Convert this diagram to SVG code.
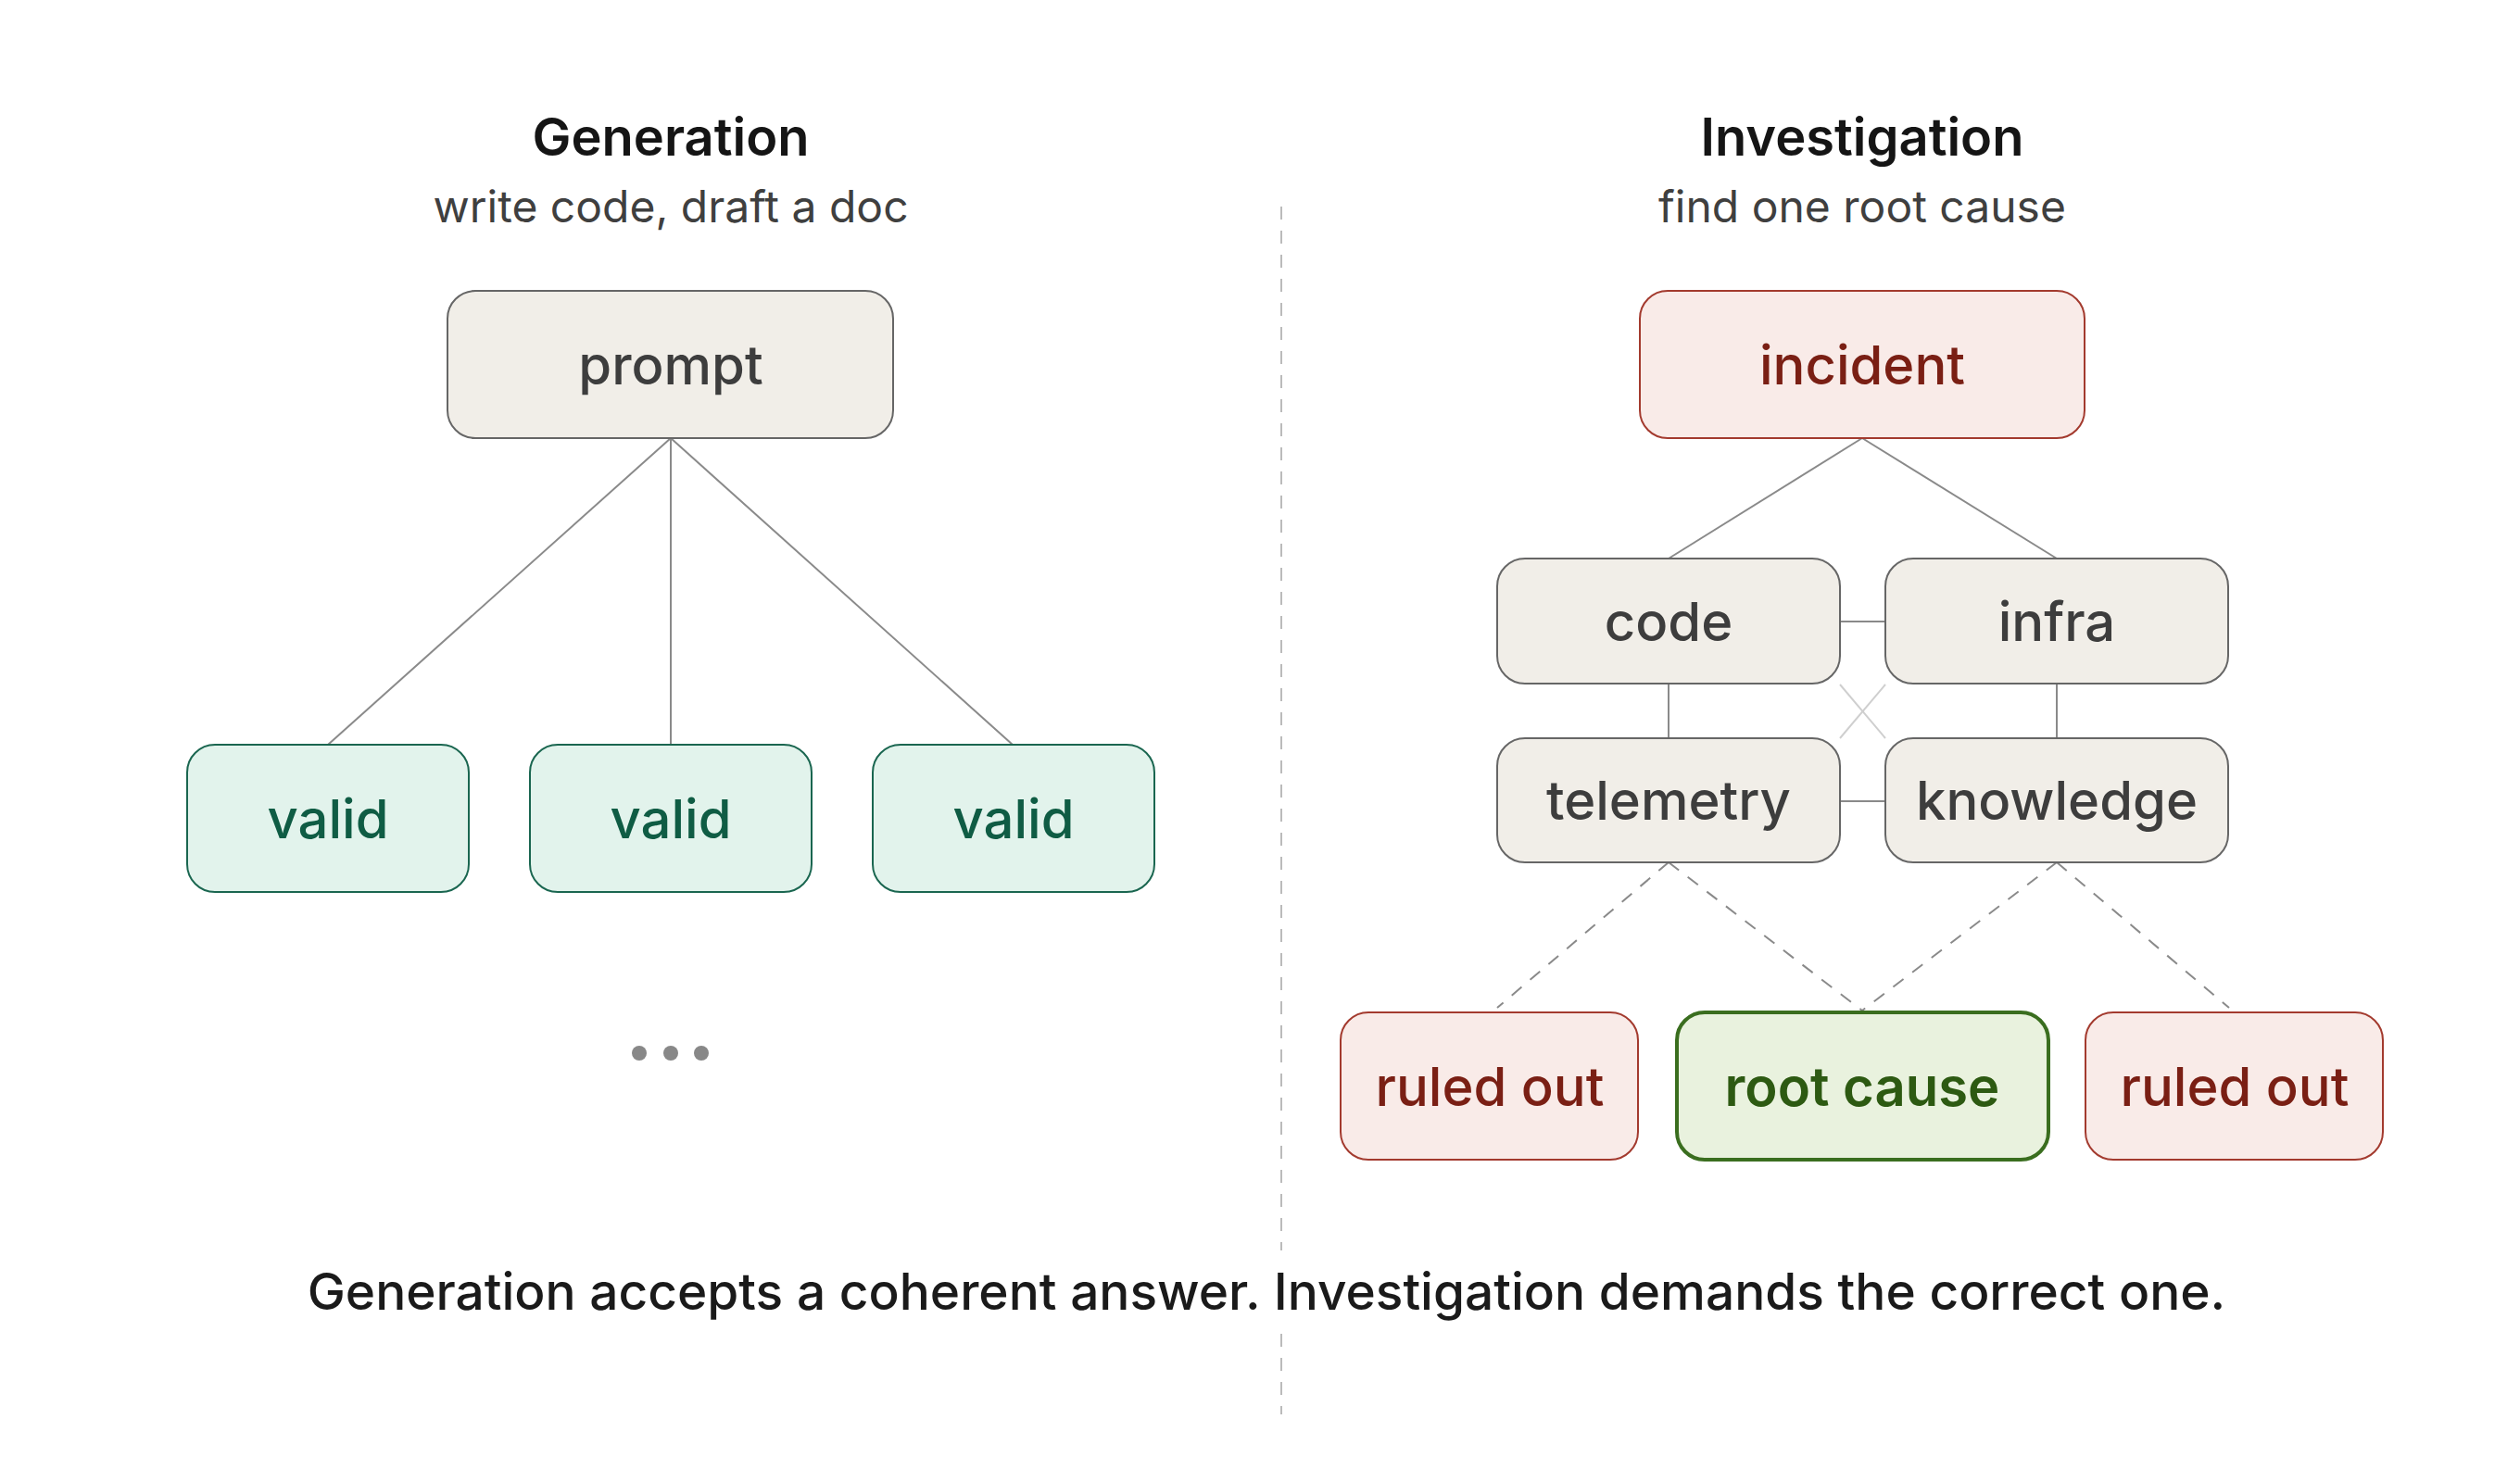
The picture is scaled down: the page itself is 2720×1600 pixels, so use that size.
<svg xmlns="http://www.w3.org/2000/svg" width="2720" height="1600" viewBox="0 0 2720 1600">
<style>
text{font-family:Inter,"Noto Sans",sans-serif;text-anchor:middle}
.t{font-size:56px;font-weight:600;fill:#151515}
.s{font-size:48px;fill:#3f3f3f}
.n text,.g text,.r text,.k text{font-size:58px;font-weight:500}
.n rect{fill:#f1eee8;stroke:#666;stroke-width:2}
.n text{fill:#3d3d3d}
.g rect{fill:#e2f3ec;stroke:#1a6650;stroke-width:2}
.g text{fill:#0f5c44}
.r rect{fill:#f9ebe8;stroke:#a33a2e;stroke-width:2}
.r text{fill:#7a1f14}
.k rect{fill:#e9f2de;stroke:#3a6e1f;stroke-width:4}
.k text{fill:#2d5a12;font-weight:600}
.c line{stroke:#8a8a8a;stroke-width:2}
.c .d{stroke-dasharray:14 12}
.c .x{stroke:#cfcfcf}
</style>
<rect width="2720" height="1600" fill="#fff"/>
<g stroke="#bbb" stroke-width="2" stroke-dasharray="14 12">
<line x1="1383" y1="223" x2="1383" y2="1350"/>
<line x1="1383" y1="1440" x2="1383" y2="1527"/>
</g>
<text class="t" x="724" y="168">Generation</text>
<text class="s" x="724" y="240">write code, draft a doc</text>
<text class="t" x="2010" y="168">Investigation</text>
<text class="s" x="2010" y="240">find one root cause</text>
<g class="c" id="connectors">
<line x1="724" y1="473" x2="354" y2="804"/>
<line x1="724" y1="473" x2="724" y2="804"/>
<line x1="724" y1="473" x2="1093" y2="804"/>
<line x1="2010" y1="473" x2="1801" y2="603"/>
<line x1="2010" y1="473" x2="2220" y2="603"/>
<line x1="1986" y1="671" x2="2035" y2="671"/>
<line x1="1986" y1="865" x2="2035" y2="865"/>
<line x1="1801" y1="738" x2="1801" y2="797"/>
<line x1="2220" y1="738" x2="2220" y2="797"/>
<line class="x" x1="1986" y1="739" x2="2035" y2="797"/>
<line class="x" x1="2035" y1="739" x2="1986" y2="797"/>
<line class="d" x1="1801" y1="931" x2="1616" y2="1088"/>
<line class="d" x1="1801" y1="931" x2="2010" y2="1091"/>
<line class="d" x1="2220" y1="931" x2="2010" y2="1091"/>
<line class="d" x1="2220" y1="931" x2="2406" y2="1088"/>
</g>
<g id="prompt" class="n"><rect x="483" y="314" width="481" height="159" rx="30"/><text x="724" y="415">prompt</text></g>
<g id="valid1" class="g"><rect x="202" y="804" width="304" height="159" rx="30"/><text x="354" y="905">valid</text></g>
<g id="valid2" class="g"><rect x="572" y="804" width="304" height="159" rx="30"/><text x="724" y="905">valid</text></g>
<g id="valid3" class="g"><rect x="942" y="804" width="304" height="159" rx="30"/><text x="1094" y="905">valid</text></g>
<g id="dots" fill="#888"><circle cx="690" cy="1137" r="8"/><circle cx="724" cy="1137" r="8"/><circle cx="757" cy="1137" r="8"/></g>
<g id="incident" class="r"><rect x="1770" y="314" width="480" height="159" rx="30"/><text x="2010" y="415">incident</text></g>
<g id="code" class="n"><rect x="1616" y="603" width="370" height="135" rx="30"/><text x="1801" y="692">code</text></g>
<g id="infra" class="n"><rect x="2035" y="603" width="370" height="135" rx="30"/><text x="2220" y="692">infra</text></g>
<g id="telemetry" class="n"><rect x="1616" y="797" width="370" height="134" rx="30"/><text x="1801" y="885">telemetry</text></g>
<g id="knowledge" class="n"><rect x="2035" y="797" width="370" height="134" rx="30"/><text x="2220" y="885">knowledge</text></g>
<g id="ruled1" class="r"><rect x="1447" y="1093" width="321" height="159" rx="30"/><text x="1608" y="1194">ruled out</text></g>
<g id="rootcause" class="k"><rect x="1810" y="1093" width="401" height="159" rx="30"/><text x="2010" y="1194">root cause</text></g>
<g id="ruled2" class="r"><rect x="2251" y="1093" width="321" height="159" rx="30"/><text x="2412" y="1194">ruled out</text></g>
<text x="1367" y="1414" style="font-size:55px;font-weight:500;fill:#1a1a1a">Generation accepts a coherent answer. Investigation demands the correct one.</text>
</svg>
